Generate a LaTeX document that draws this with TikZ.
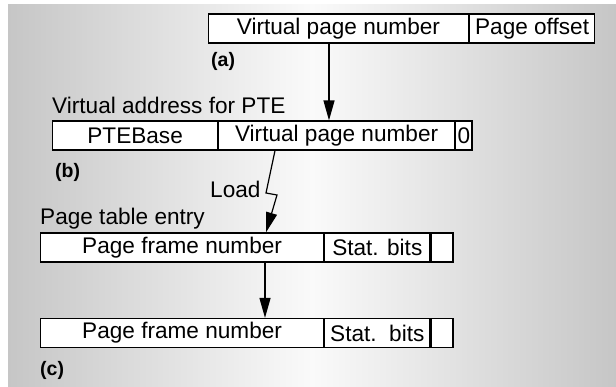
\documentclass[tikz,border=0pt]{standalone}
\usepackage{fontspec}
\setmainfont{Liberation Sans}
\usetikzlibrary{arrows.meta}
\usetikzlibrary{calc}

\definecolor{bgside}{RGB}{198,198,198}
\definecolor{bgmid}{RGB}{250,250,250}

\tikzset{
  field/.style={draw, fill=white, line width=1.2pt, minimum height=29pt,
    inner sep=0pt, anchor=west, font=\fontsize{22.6}{27}\selectfont},
  txt/.style={inner sep=0pt, anchor=base west, font=\fontsize{22.6}{27}\selectfont},
  tag/.style={inner sep=0pt, anchor=base west, font=\fontsize{19.5}{23}\selectfont\bfseries},
  arr/.style={line width=1.2pt, -{Triangle[length=20pt,width=11pt]}}
}

\begin{document}
\begin{tikzpicture}[x=1pt, y=-1pt]
      \useasboundingbox (0,0) rectangle (616,386);
      \shade[left color=bgside, right color=bgside, middle color=bgmid] (8,4) rectangle (616,386);

      % (a) virtual address
      \node[field, minimum width=259.6pt] (vpn) at (208,28.5) {Virtual page number};
      \node[field, minimum width=125.4pt] (off) at (vpn.east) {Page offset};
      \node[tag] (la) at (211,66) {(a)};

      % (b) virtual address of the PTE
      \node[txt] (vapte) at (52,113) {Virtual address for PTE};
      \node[field, minimum width=165pt] (base) at (52,135.5) {PTEBase};
      \node[field, minimum width=235.6pt] (vpnb) at (base.east) {Virtual page number};
      \node[field, minimum width=16.4pt] (zero) at (vpnb.east) {0};
      \node[tag] (lb) at (55,177) {(b)};

      % (c) page table entry and result
      \node[txt] (ptename) at (40,224) {Page table entry};
      \node[field, minimum width=283pt] (pfn) at (40,247.5) {Page frame number};
      \node[field, minimum width=105pt] (stat) at (pfn.east) {Stat. bits};
      \node[field, minimum width=22pt] (rest) at (stat.east) {};

      \node[field, minimum width=283pt] (pfnc) at (40,333) {Page frame number};
      \node[field, minimum width=105pt] (statc) at (pfnc.east) {Stat.\ \ bits};
      \node[field, minimum width=22pt] (restc) at (statc.east) {};
      \node[tag] (lc) at (40,375) {(c)};

      \draw[arr] (vpn.south -| 329,0) -- (vpnb.north -| 329,0);
      \draw[arr] (vpnb.south -| 275,0) -- (266,193) -- (277,195) -- (pfn.north -| 266,0);
      \node[txt] (load) at (210,197.5) {Load};
      \draw[arr] (pfn.south -| 265,0) -- (pfnc.north -| 265,0);
    \end{tikzpicture}
\end{document}
